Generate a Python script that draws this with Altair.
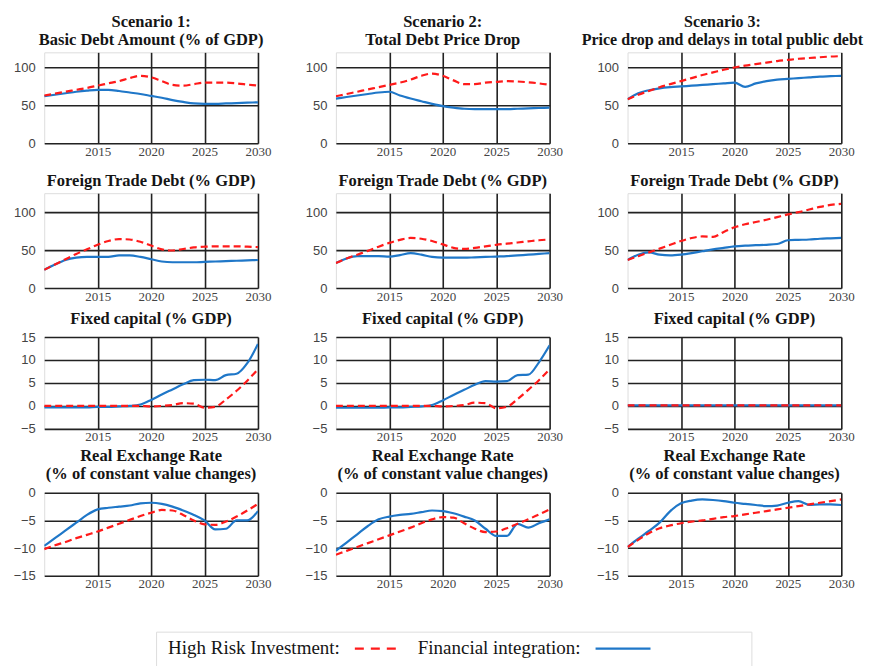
import altair as alt
import pandas as pd

years = list(range(2010, 2031))

# Row 1: public debt (% of GDP)
s1_debt_risk = [63, 65.5, 68, 70.5, 73, 76, 79, 82, 86, 89, 87, 82, 77, 76, 78, 80, 80, 80, 79, 77.5, 76]
s1_debt_fin = [62, 64, 66, 68, 69.5, 70.5, 70.5, 69, 67, 65, 62.5, 60, 57, 54.5, 52.5, 52, 52, 52.5, 53, 53.5, 54]
s2_debt_risk = [62, 65, 68, 71, 74, 77, 80, 84, 89, 92, 89, 83, 78, 78, 80, 81, 82, 81.5, 80.5, 79, 77]
s2_debt_fin = [59, 61, 63, 65, 67, 68, 63, 59, 55.5, 52, 49, 47, 45.5, 45, 45, 45, 45, 45.5, 46, 46.5, 47]
s3_debt_risk = [58, 64, 69, 74, 78, 82, 86, 90, 93.5, 97, 100, 102.5, 104.5, 106.5, 108.5, 110, 111.5, 112.5, 113.5, 114.5, 115]
s3_debt_fin = [58, 66, 70, 72.5, 74, 75, 76, 77, 78, 79, 80, 74.5, 79, 82, 84, 85, 86, 87, 88, 88.5, 89]

# Row 2: foreign trade debt (% GDP)
s1_trade_risk = [24, 31, 38, 45, 51, 57, 62, 64.5, 64, 61, 56, 51, 49.5, 51.5, 53.5, 54.5, 55, 55, 55, 54.5, 54]
s1_trade_fin = [24, 31, 37, 40, 41, 41, 41, 43, 43, 41, 38, 35, 34, 34, 34, 34.5, 35, 35.5, 36, 36.5, 37]
s2_trade_risk = [33, 39, 44, 49, 54.5, 59.5, 63.5, 66, 65, 62, 57.5, 53, 51.5, 53, 55, 57, 58.5, 60, 61.5, 63, 64]
s2_trade_fin = [33, 39, 42, 42, 42, 41.5, 43.5, 46, 44, 41, 40, 40, 40, 40.5, 41, 41.5, 42, 43, 44, 45, 46]
s3_trade_risk = [37, 42, 47, 52, 57, 62, 66, 68, 67.5, 74, 80, 84, 87, 90, 93.5, 97, 100, 103.5, 107, 109.5, 111]
s3_trade_fin = [37, 44, 47, 44, 43, 44, 46, 48.5, 51, 53, 55, 56, 56.5, 57, 58, 63, 63.5, 64, 65, 65.5, 66]

# Row 3: fixed capital (% GDP)
s1_cap_risk = [0, 0, 0, 0, 0, 0, 0, 0, 0, 0, -0.1, 0, 0.2, 0.6, 0.5, -0.4, -0.2, 1.4, 3.3, 5.5, 8]
s1_cap_fin = [-0.3, -0.3, -0.3, -0.3, -0.3, -0.2, -0.2, -0.1, 0, 0.3, 1.3, 2.5, 3.6, 4.7, 5.6, 5.7, 5.6, 6.7, 7.0, 9.3, 13.5]
s2_cap_risk = [0, 0, 0, 0, 0, 0, 0, 0, 0, 0, -0.1, 0, 0.2, 0.7, 0.6, -0.5, -0.2, 1.5, 3.5, 5.6, 8]
s2_cap_fin = [-0.4, -0.4, -0.4, -0.4, -0.4, -0.3, -0.3, -0.2, -0.1, 0.2, 1.2, 2.4, 3.5, 4.6, 5.4, 5.3, 5.4, 6.7, 6.8, 9.5, 13.2]
s3_cap_risk = [0.1] * 21
s3_cap_fin = [0.1] * 21

# Row 4: real exchange rate (% of constant value changes)
s1_rer_risk = [-10.2, -9.5, -8.9, -8.2, -7.6, -7.0, -6.3, -5.6, -4.9, -4.2, -3.6, -3.1, -3.2, -4.0, -5.0, -5.7, -5.8, -5.2, -4.3, -3.2, -2.0]
s1_rer_fin = [-9.6, -8.2, -6.8, -5.4, -4.0, -3.0, -2.7, -2.5, -2.3, -1.9, -1.8, -2.0, -2.5, -3.2, -4.0, -5.0, -6.6, -6.5, -5.0, -5.0, -3.3]
s2_rer_risk = [-11.2, -10.5, -9.8, -9.1, -8.4, -7.7, -7.0, -6.3, -5.5, -4.8, -4.4, -4.5, -5.5, -6.5, -7.1, -7.0, -6.4, -5.6, -4.8, -3.9, -3.0]
s2_rer_fin = [-10.5, -9.0, -7.5, -6.0, -4.8, -4.3, -4.0, -3.8, -3.5, -3.2, -3.3, -3.7, -4.3, -5.0, -6.5, -7.8, -7.8, -5.6, -6.3, -5.5, -4.8]
s3_rer_risk = [-9.8, -8.5, -7.3, -6.4, -5.9, -5.5, -5.2, -5.0, -4.7, -4.4, -4.2, -3.9, -3.6, -3.3, -3.0, -2.7, -2.4, -2.1, -1.8, -1.5, -1.2]
s3_rer_fin = [-9.8, -8.3, -6.9, -5.4, -3.3, -1.9, -1.4, -1.2, -1.3, -1.5, -1.8, -2.0, -2.2, -2.4, -2.3, -1.8, -1.5, -2.2, -2.1, -2.1, -2.2]

x_ticks = [2015, 2020, 2025, 2030]
series_names = ["High Risk Investment", "Financial integration"]
legend_labels = ["High Risk Investment:", "Financial integration:"]

RED = "#ff1a1a"
BLUE = "#1f77c8"
W = 214
GAP = 78


def panel(title, risk, fin, ydom, yvals, h, tsize=16.5, tdx=0):
    df = pd.DataFrame({
        "year": years + years,
        "value": risk + fin,
        "series": [series_names[0]] * len(years) + [series_names[1]] * len(years),
    })
    x = alt.X("year:Q",
              scale=alt.Scale(domain=[2010, 2030], nice=False, zero=False),
              axis=alt.Axis(values=x_ticks, format="d", title=None, labelFlush=False,
                            labelFont="Liberation Serif", labelFontSize=13, labelColor="#444",
                            labelPadding=2, ticks=False, domain=False,
                            grid=True, gridColor="#222", gridWidth=1.6, gridOpacity=1))
    y = alt.Y("value:Q",
              scale=alt.Scale(domain=ydom, nice=False, zero=False),
              axis=alt.Axis(values=yvals, title=None, labelFont="Liberation Sans",
                            labelFontSize=13, labelColor="#444", labelPadding=9,
                            ticks=False, domain=False,
                            grid=True, gridColor="#222", gridWidth=1.6, gridOpacity=1))
    base = alt.Chart(df).encode(x=x, y=y)
    fin_line = base.transform_filter(alt.datum.series == series_names[1]).mark_line(
        color=BLUE, strokeWidth=2.2, interpolate="monotone", clip=True)
    risk_line = base.transform_filter(alt.datum.series == series_names[0]).mark_line(
        color=RED, strokeWidth=2.2, strokeDash=[7, 4], interpolate="monotone", clip=True)
    tp = dict(text=title, font="Liberation Serif", fontSize=tsize, fontWeight="bold",
              color="#151515", anchor="middle", offset=4, lineHeight=18)
    if tdx:
        tp["dx"] = tdx
    return alt.layer(fin_line, risk_line).properties(
        width=W, height=h, title=alt.TitleParams(**tp))


row1 = alt.hconcat(
    panel(["Scenario 1:", "Basic Debt Amount (% of GDP)"], s1_debt_risk, s1_debt_fin, [0, 120], [0, 50, 100], 91),
    panel(["Scenario 2:", "Total Debt Price Drop"], s2_debt_risk, s2_debt_fin, [0, 120], [0, 50, 100], 91),
    panel(["Scenario 3:", "Price drop and delays in total public debt"], s3_debt_risk, s3_debt_fin, [0, 120], [0, 50, 100], 91,
          tsize=16, tdx=-12),
    spacing=GAP, bounds="flush")
row2 = alt.hconcat(
    panel("Foreign Trade Debt (% GDP)", s1_trade_risk, s1_trade_fin, [0, 125], [0, 50, 100], 95),
    panel("Foreign Trade Debt (% GDP)", s2_trade_risk, s2_trade_fin, [0, 125], [0, 50, 100], 95),
    panel("Foreign Trade Debt (% GDP)", s3_trade_risk, s3_trade_fin, [0, 125], [0, 50, 100], 95),
    spacing=GAP, bounds="flush")
row3 = alt.hconcat(
    panel("Fixed capital (% GDP)", s1_cap_risk, s1_cap_fin, [-5, 15], [-5, 0, 5, 10, 15], 92),
    panel("Fixed capital (% GDP)", s2_cap_risk, s2_cap_fin, [-5, 15], [-5, 0, 5, 10, 15], 92),
    panel("Fixed capital (% GDP)", s3_cap_risk, s3_cap_fin, [-5, 15], [-5, 0, 5, 10, 15], 92),
    spacing=GAP, bounds="flush")
rer_title = ["Real Exchange Rate", "(%  of constant value changes)"]
row4 = alt.hconcat(
    panel(rer_title, s1_rer_risk, s1_rer_fin, [-15, 0], [-15, -10, -5, 0], 83),
    panel(rer_title, s2_rer_risk, s2_rer_fin, [-15, 0], [-15, -10, -5, 0], 83),
    panel(rer_title, s3_rer_risk, s3_rer_fin, [-15, 0], [-15, -10, -5, 0], 83),
    spacing=GAP, bounds="flush")

# Legend box
leg_df = pd.DataFrame({"label": legend_labels})
lg_base = alt.Chart(leg_df)
t1 = lg_base.transform_filter(alt.datum.label == legend_labels[0]).mark_text(
    align="left", baseline="middle", font="Liberation Serif", fontSize=19, color="#151515"
).encode(text="label:N", x=alt.value(12), y=alt.value(16))
r1 = lg_base.transform_filter(alt.datum.label == legend_labels[0]).mark_rule(
    color=RED, strokeWidth=2.4, strokeDash=[9, 7]
).encode(x=alt.value(199), x2=alt.value(244), y=alt.value(17))
t2 = lg_base.transform_filter(alt.datum.label == legend_labels[1]).mark_text(
    align="left", baseline="middle", font="Liberation Serif", fontSize=19, color="#151515"
).encode(text="label:N", x=alt.value(262), y=alt.value(16))
r2 = lg_base.transform_filter(alt.datum.label == legend_labels[1]).mark_rule(
    color=BLUE, strokeWidth=2.4
).encode(x=alt.value(440), x2=alt.value(495), y=alt.value(17))
legend = alt.layer(t1, r1, t2, r2).properties(width=596, height=42)

top = alt.vconcat(row1, row2, spacing=13)
top3 = alt.vconcat(top, row3, spacing=6)
mid = alt.vconcat(top3, row4, spacing=3)
chart = alt.vconcat(mid, legend, spacing=39, center=True).properties(
    padding={"left": 4, "top": 5, "right": 0, "bottom": 5}
).configure_view(stroke="#222", strokeWidth=1.6).configure(background="white")

chart.save("out.html", embed_options={"renderer": "svg", "actions": False})
